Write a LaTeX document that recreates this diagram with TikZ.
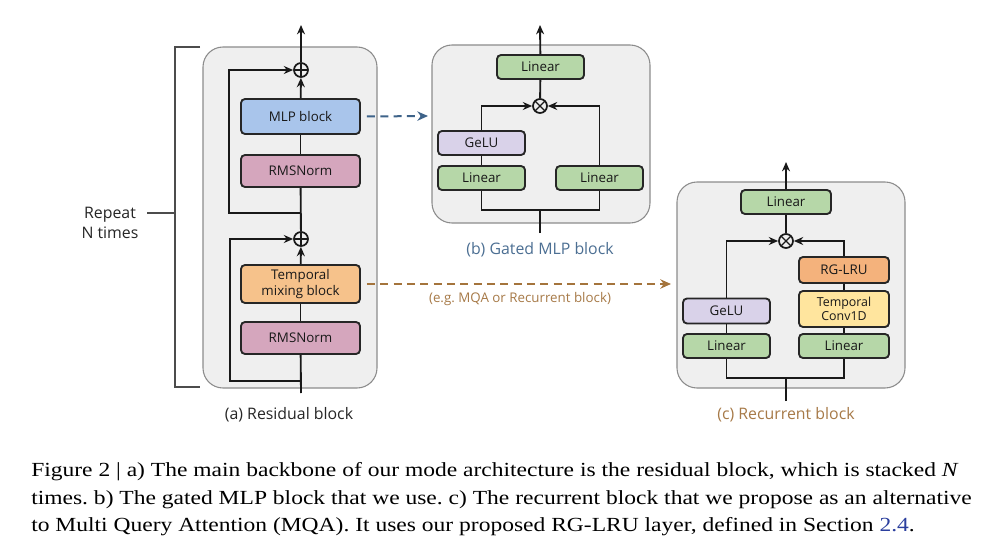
\documentclass[tikz,border=0pt]{standalone}
\usepackage{fontspec}
\setmainfont{Liberation Serif}
\newfontfamily\diag{Open Sans}
\usetikzlibrary{arrows.meta}
\frenchspacing
\definecolor{panelgray}{HTML}{EFEFEF}
\definecolor{panelline}{HTML}{8C8C8C}
\definecolor{mlpblue}{HTML}{A9C5EB}
\definecolor{rmspink}{HTML}{D5A6BD}
\definecolor{tmixorange}{HTML}{F6C28B}
\definecolor{lingreen}{HTML}{B6D7A8}
\definecolor{gelupurple}{HTML}{D9D2E9}
\definecolor{rgorange}{HTML}{F4B27C}
\definecolor{convyellow}{HTML}{FFE59E}
\definecolor{bluedash}{HTML}{3E6389}
\definecolor{browndash}{HTML}{A4743C}
\definecolor{bluelabel}{HTML}{4C6F93}
\definecolor{brownlabel}{HTML}{A77A48}
\definecolor{linkblue}{HTML}{2B3F9E}
\tikzset{
  panel/.style={draw=panelline, fill=panelgray, line width=0.8pt, rounded corners=15pt},
  blk/.style={draw=black!85, line width=1.4pt, rounded corners=3pt, align=center, inner sep=0pt,
    font=\diag\fontsize{10}{11.5}\selectfont, text=black!90},
  conn/.style={line width=1.4pt, draw=black!90},
  arr/.style={conn, -{Stealth[length=7pt,width=6pt]}},
  opnode/.style={circle, draw=black!90, line width=1.3pt, minimum size=10.5pt, inner sep=0pt},
  oplus/.style={opnode, path picture={\draw[line width=1pt] (path picture bounding box.north) -- (path picture bounding box.south) (path picture bounding box.east) -- (path picture bounding box.west);}},
  otimes/.style={opnode, path picture={\draw[line width=1pt] (path picture bounding box.north west) -- (path picture bounding box.south east) (path picture bounding box.north east) -- (path picture bounding box.south west);}},
  sublabel/.style={font=\diag\fontsize{11.9}{13}\selectfont},
  capline/.style={anchor=base west, inner sep=0pt, font=\fontsize{15}{17}\selectfont}
}
\begin{document}
\begin{tikzpicture}[x=0.75pt,y=-0.75pt]
\useasboundingbox[fill=white] (0,0) rectangle (988,556);

% ---------------- (a) residual block ----------------
\draw[panel] (203,47) rectangle (377,388);
\node[blk, fill=mlpblue, minimum width=119*0.75pt, minimum height=35*0.75pt] (mlp) at (300.5,116.5) {MLP block};
\node[blk, fill=rmspink, minimum width=119*0.75pt, minimum height=32*0.75pt] (rms1) at (300.5,171) {RMSNorm};
\node[blk, fill=tmixorange, minimum width=119*0.75pt, minimum height=38*0.75pt] (tmix) at (300.5,284) {Temporal\\mixing block};
\node[blk, fill=rmspink, minimum width=119*0.75pt, minimum height=32*0.75pt] (rms2) at (300.5,338) {RMSNorm};
\node[oplus] (plus1) at (301,70) {};
\node[oplus] (plus2) at (301,239) {};
\coordinate (ina) at (301,393);
\coordinate (outa) at (301,25);
\coordinate (l2s) at (301,381);
\coordinate (l1s) at (301,213);
\draw[conn] (ina) -- (rms2);
\draw[conn] (rms2) -- (tmix);
\draw[arr] (tmix) -- (plus2);
\draw[conn] (plus2) -- (rms1);
\draw[conn] (rms1) -- (mlp);
\draw[arr] (mlp) -- (plus1);
\draw[arr] (plus1) -- (outa);
\draw[arr] (l2s) -- (230,381) -- (230,239) -- (plus2);
\draw[arr] (l1s) -- (229,213) -- (229,70) -- (plus1);
\node[sublabel, text=black!85] (labA) at (289,415) {(a) Residual block};

% bracket
\draw[black!70, line width=0.9pt] (200,47) -- (175,47) -- (175,387) -- (200,387);
\coordinate (brk) at (175,213);
\draw[black!70, line width=0.9pt] (brk) -- (147,213);
\node[font=\diag\fontsize{11.9}{15}\selectfont, align=center, text=black!85] (rep) at (110,223) {Repeat\\N times};

% ---------------- (b) gated MLP ----------------
\draw[panel] (432,45) rectangle (650,223);
\node[blk, fill=lingreen, minimum width=87*0.75pt, minimum height=24*0.75pt] (linB) at (540.5,67) {Linear};
\node[otimes] (otB) at (540,106) {};
\node[blk, fill=gelupurple, minimum width=87*0.75pt, minimum height=24*0.75pt] (geluB) at (481.5,143) {GeLU};
\node[blk, fill=lingreen, minimum width=87*0.75pt, minimum height=24*0.75pt] (linBL) at (481.5,178) {Linear};
\node[blk, fill=lingreen, minimum width=87*0.75pt, minimum height=24*0.75pt] (linBR) at (599.5,178) {Linear};
\coordinate (outB) at (540,25);
\coordinate (inB) at (540,233);
\draw[arr] (linB) -- (outB);
\draw[conn] (otB) -- (linB);
\draw[arr] (geluB.north) -- (481.5,106) -- (otB);
\draw[conn] (geluB) -- (linBL);
\draw[arr] (linBR.north) -- (599.5,106) -- (otB);
\draw[conn] (linBL.south) -- (481.5,210) -- (599.5,210) -- (linBR.south);
\draw[conn] (inB) -- (540,210);
\node[sublabel, text=bluelabel] (labB) at (540,250) {(b) Gated MLP block};

% ---------------- (c) recurrent block ----------------
\draw[panel] (677,182) rectangle (905,388);
\node[blk, fill=lingreen, minimum width=90*0.75pt, minimum height=24*0.75pt] (linC) at (786,202) {Linear};
\node[otimes] (otC) at (786,241) {};
\node[blk, fill=gelupurple, minimum width=87*0.75pt, minimum height=25*0.75pt] (geluC) at (726.5,311) {GeLU};
\node[blk, fill=lingreen, minimum width=87*0.75pt, minimum height=24*0.75pt] (linCL) at (726.5,346) {Linear};
\node[blk, fill=rgorange, minimum width=90*0.75pt, minimum height=26*0.75pt] (rglru) at (844,270) {RG-LRU};
\node[blk, fill=convyellow, minimum width=90*0.75pt, minimum height=36*0.75pt, font=\diag\fontsize{9.3}{10.3}\selectfont] (conv) at (844,309) {Temporal\\Conv1D};
\node[blk, fill=lingreen, minimum width=90*0.75pt, minimum height=24*0.75pt] (linCR) at (844,346) {Linear};
\coordinate (outC) at (786,162);
\coordinate (inC) at (786,401);
\draw[arr] (linC) -- (outC);
\draw[conn] (otC) -- (linC);
\draw[arr] (geluC.north) -- (726.5,241) -- (otC);
\draw[conn] (geluC) -- (linCL);
\draw[conn] (linCR) -- (conv);
\draw[conn] (conv) -- (rglru);
\draw[arr] (rglru.north) -- (844,241) -- (otC);
\draw[conn] (linCL.south) -- (726.5,378) -- (844,378) -- (linCR.south);
\draw[conn] (inC) -- (786,378);
\node[sublabel, text=brownlabel] (labC) at (786,415) {(c) Recurrent block};

% ---------------- dashed connectors ----------------
\coordinate (bdEnd) at (428,116);
\draw[bluedash, line width=1.5pt, dash pattern=on 6pt off 4pt, -{Stealth[length=8pt,width=7pt]}] (mlp.east) ++(6,0) -- (bdEnd);
\coordinate (odEnd) at (671,284);
\draw[browndash, line width=1.5pt, dash pattern=on 6pt off 4pt, -{Stealth[length=8pt,width=7pt]}] (tmix.east) ++(6,0) -- (odEnd);
\node[font=\diag\fontsize{10}{12}\selectfont, text=brownlabel] (eg) at (520,299) {(e.g. MQA or Recurrent block)};

% ---------------- caption ----------------
\node[capline] (cap1) at (31,476) {\scalebox{1.176}[1]{Figure 2 | a) The main backbone of our mode architecture is the residual block, which is stacked \textit{N}}};
\node[capline] (cap2) at (31,504) {\scalebox{1.176}[1]{times. b) The gated MLP block that we use. c) The recurrent block that we propose as an alternative}};
\node[capline] (cap3) at (31,531) {\scalebox{1.176}[1]{to Multi Query Attention (MQA). It uses our proposed RG-LRU layer, defined in Section \textcolor{linkblue}{2.4}.}};
\end{tikzpicture}
\end{document}
